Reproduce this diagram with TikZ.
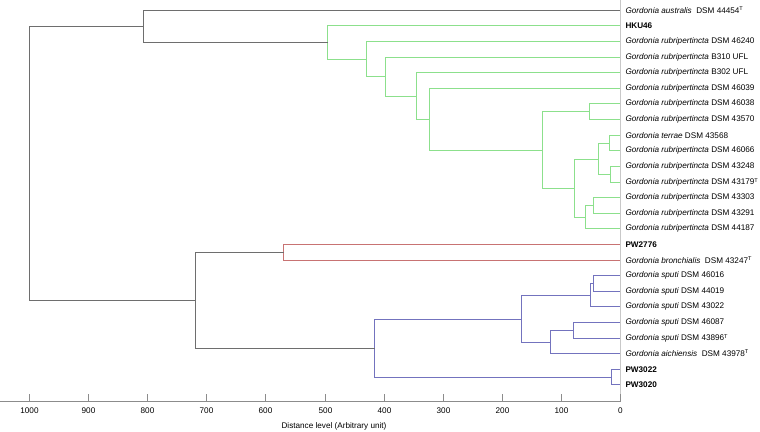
\documentclass[tikz,border=0pt]{standalone}
\usepackage{fontspec}
\setmainfont{Liberation Sans}
\definecolor{tgray}{RGB}{110,110,110}
\definecolor{tgreen}{RGB}{140,224,140}
\definecolor{tred}{RGB}{200,115,115}
\definecolor{tblue}{RGB}{115,115,190}
\definecolor{vline}{RGB}{200,200,200}
\definecolor{axisc}{RGB}{140,140,140}
\newcommand\gordo[1]{\textit{Gordonia #1}}
\newcommand\typeT{\textsuperscript{\fontsize{5.6}{6}\selectfont T}}
\tikzset{
  leaf/.style={anchor=west,inner sep=0pt,xshift=4.8bp,font=\fontsize{8.2}{10}\selectfont},
  bleaf/.style={leaf,font=\fontsize{8.2}{10}\selectfont\bfseries},
  edge/.style={line width=1bp},
  ticklab/.style={inner sep=0pt,font=\fontsize{8.2}{10}\selectfont},
}
\begin{document}
\begin{tikzpicture}[x=1bp,y=-1bp]
\useasboundingbox (0,0) rectangle (760,431);
% leaf end points
\foreach \i in {0,...,24} {\coordinate (e\i) at (620.5,{floor(10.3+15.61*\i)+0.5});}
% labels
\node[leaf] (n0) at (e0) {\gordo{australis}\ \ DSM 44454\typeT};
\node[bleaf] (n1) at (e1) {HKU46};
\node[leaf] (n2) at (e2) {\gordo{rubripertincta} DSM 46240};
\node[leaf] (n3) at (e3) {\gordo{rubripertincta} B310 UFL};
\node[leaf] (n4) at (e4) {\gordo{rubripertincta} B302 UFL};
\node[leaf] (n5) at (e5) {\gordo{rubripertincta} DSM 46039};
\node[leaf] (n6) at (e6) {\gordo{rubripertincta} DSM 46038};
\node[leaf] (n7) at (e7) {\gordo{rubripertincta} DSM 43570};
\node[leaf] (n8) at (e8) {\gordo{terrae} DSM 43568};
\node[leaf] (n9) at (e9) {\gordo{rubripertincta} DSM 46066};
\node[leaf] (n10) at (e10) {\gordo{rubripertincta} DSM 43248};
\node[leaf] (n11) at (e11) {\gordo{rubripertincta} DSM 43179\typeT};
\node[leaf] (n12) at (e12) {\gordo{rubripertincta} DSM 43303};
\node[leaf] (n13) at (e13) {\gordo{rubripertincta} DSM 43291};
\node[leaf] (n14) at (e14) {\gordo{rubripertincta} DSM 44187};
\node[bleaf] (n15) at (e15) {PW2776};
\node[leaf] (n16) at (e16) {\gordo{bronchialis}\ \ DSM 43247\typeT};
\node[leaf] (n17) at (e17) {\gordo{sputi} DSM 46016};
\node[leaf] (n18) at (e18) {\gordo{sputi} DSM 44019};
\node[leaf] (n19) at (e19) {\gordo{sputi} DSM 43022};
\node[leaf] (n20) at (e20) {\gordo{sputi} DSM 46087};
\node[leaf] (n21) at (e21) {\gordo{sputi} DSM 43896\typeT};
\node[leaf] (n22) at (e22) {\gordo{aichiensis}\ \ DSM 43978\typeT};
\node[bleaf] (n23) at (e23) {PW3022};
\node[bleaf] (n24) at (e24) {PW3020};
% internal nodes
\coordinate (G11) at (609.5,143.5);
\coordinate (G12) at (610.5,174.5);
\coordinate (G9) at (598.5,159.5);
\coordinate (G13) at (593.5,205.5);
\coordinate (G10) at (585.5,217.5);
\coordinate (G8) at (574.5,188.5);
\coordinate (G7) at (589.5,111.5);
\coordinate (G6) at (542.5,150.5);
\coordinate (G5) at (429.5,119.5);
\coordinate (G4) at (416.5,96.5);
\coordinate (G3) at (385.5,76.5);
\coordinate (G2) at (366.5,59.5);
\coordinate (G1) at (327.5,42.5);
\coordinate (A) at (143.5,26.5);
\coordinate (R) at (283.5,252.5);
\coordinate (P5) at (593.5,283.5);
\coordinate (P3) at (590.5,295.5);
\coordinate (P6) at (573.5,330.5);
\coordinate (P4) at (550.5,342.5);
\coordinate (P1) at (521.5,319.5);
\coordinate (P2) at (611.5,377.5);
\coordinate (P) at (374.5,348.5);
\coordinate (B) at (195.5,300.5);
\coordinate (Root) at (29.5,163.5);
% green clade
\begin{scope}[edge,tgreen]
\draw (e8) -| (G11) |- (e9);
\draw (e10) -| (G12) |- (e11);
\draw (G11) -| (G9) |- (G12);
\draw (e12) -| (G13) |- (e13);
\draw (G13) -| (G10) |- (e14);
\draw (G9) -| (G8) |- (G10);
\draw (e6) -| (G7) |- (e7);
\draw (G7) -| (G6) |- (G8);
\draw (e5) -| (G5) |- (G6);
\draw (e4) -| (G4) |- (G5);
\draw (e3) -| (G3) |- (G4);
\draw (e2) -| (G2) |- (G3);
\draw (e1) -| (G1) |- (G2);
\end{scope}
% red clade
\draw[edge,tred] (e15) -| (R) |- (e16);
% blue clade
\begin{scope}[edge,tblue]
\draw (e17) -| (P5) |- (e18);
\draw (P5) -| (P3) |- (e19);
\draw (e20) -| (P6) |- (e21);
\draw (P6) -| (P4) |- (e22);
\draw (P3) -| (P1) |- (P4);
\draw (e23) -| (P2) |- (e24);
\draw (P1) -| (P) |- (P2);
\end{scope}
% gray
\begin{scope}[edge,tgray]
\draw (e0) -| (A) |- (G1);
\draw (R) -| (B) |- (P);
\draw (A) -| (Root) |- (B);
\end{scope}
% vertical zero line and axis
\coordinate (vtop) at (620.5,0);
\coordinate (axR) at (620.5,401.5);
\coordinate (axL) at (0,401.5);
\draw[vline,line width=1.6bp] (vtop) -- (axR);
\draw[axisc,line width=1bp] (axL) -- (axR);
\foreach \v [count=\k from 0] in {0,100,...,1000} {
  \coordinate (tk\v) at ({floor(620.7-59.13*\k)+0.5},401.5);
  \draw[axisc,line width=1bp] (tk\v) -- ++(0,-7.5);
  \node[ticklab] (tl\v) at ([yshift=-9bp]tk\v) {\v};
}
\node[inner sep=0pt,font=\fontsize{8.2}{9}\selectfont] (xlab) at (334,426) {Distance level (Arbitrary unit)};
\end{tikzpicture}
\end{document}
